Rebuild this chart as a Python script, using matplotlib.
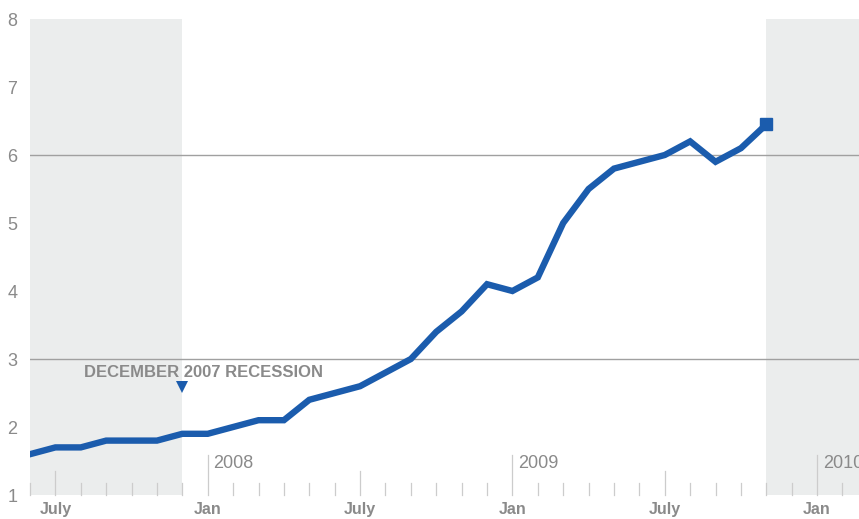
import numpy as np
import matplotlib.pyplot as plt
import matplotlib.transforms as mtransforms

plt.rcParams['font.family'] = ['Liberation Sans', 'DejaVu Sans']

# monthly values, June 2007 .. November 2009
months = ['2007-06', '2007-07', '2007-08', '2007-09', '2007-10', '2007-11',
          '2007-12', '2008-01', '2008-02', '2008-03', '2008-04', '2008-05',
          '2008-06', '2008-07', '2008-08', '2008-09', '2008-10', '2008-11',
          '2008-12', '2009-01', '2009-02', '2009-03', '2009-04', '2009-05',
          '2009-06', '2009-07', '2009-08', '2009-09', '2009-10', '2009-11']
values = [1.6, 1.7, 1.7, 1.8, 1.8, 1.8, 1.9, 1.9, 2.0, 2.1, 2.1, 2.4,
          2.5, 2.6, 2.8, 3.0, 3.4, 3.7, 4.1, 4.0, 4.2, 5.0, 5.5, 5.8,
          5.9, 6.0, 6.2, 5.9, 6.1, 6.45]

# axis months from June 2007 to Feb 2010
axis_months = ['2007-06', '2007-07', '2007-08', '2007-09', '2007-10', '2007-11',
               '2007-12', '2008-01', '2008-02', '2008-03', '2008-04', '2008-05',
               '2008-06', '2008-07', '2008-08', '2008-09', '2008-10', '2008-11',
               '2008-12', '2009-01', '2009-02', '2009-03', '2009-04', '2009-05',
               '2009-06', '2009-07', '2009-08', '2009-09', '2009-10', '2009-11',
               '2009-12', '2010-01', '2010-02']
month_labels = {'07': 'July', '01': 'Jan'}
recession_month = '2007-12'
recession_label = 'DECEMBER 2007 RECESSION'

blue = '#1b5cad'
grey_txt = '#8a8a8a'
shade = '#ebeded'
tickc = '#cccccc'

idx = {m: i for i, m in enumerate(axis_months)}
x = np.array([idx[m] for m in months])
y = np.array(values)

fig = plt.figure(figsize=(8.59, 5.19), dpi=100)
ax = fig.add_axes([30 / 859, 24 / 519, 829 / 859, 476 / 519])
xmax = 32.65
ax.set_xlim(0, xmax)
ax.set_ylim(1, 8)

# shaded periods
ax.axvspan(idx['2007-06'], idx['2007-12'], color=shade, lw=0, zorder=0)
ax.axvspan(idx['2009-11'], xmax, color=shade, lw=0, zorder=0)

# gridlines
for g in [3, 6]:
    ax.axhline(g, color='#a0a0a0', lw=1.0, zorder=1)

# month ticks
trans = mtransforms.blended_transform_factory(ax.transData, ax.transAxes)
for m, i in idx.items():
    mm = m[5:]
    if mm == '01':
        top = 40 / 476
    elif mm == '07':
        top = 24 / 476
    else:
        top = 12 / 476
    ax.plot([i, i], [0, top], color=tickc, lw=0.9, transform=trans,
            clip_on=False, zorder=1)
    if mm == '01':
        ax.text(i + 0.22, 31 / 476, m[:4], transform=trans, fontsize=13,
                color=grey_txt, ha='left', va='center')

tick_pos = [i for m, i in idx.items() if m[5:] in month_labels]
tick_lab = [month_labels[m[5:]] for m, i in idx.items() if m[5:] in month_labels]
ax.set_xticks(tick_pos)
ax.set_xticklabels(tick_lab, fontsize=11.5, color=grey_txt, fontweight='bold')
ax.tick_params(axis='x', length=0, pad=5)

ax.set_yticks(range(1, 9))
ax.set_yticklabels([str(v) for v in range(1, 9)], fontsize=13, color=grey_txt)
ax.tick_params(axis='y', length=0, pad=9)

for s in ax.spines.values():
    s.set_visible(False)

# line
ax.plot(x, y, color=blue, lw=4.6, solid_joinstyle='miter', zorder=3)
ax.plot(x[-1], y[-1], marker='s', ms=8, color=blue, zorder=4)

# recession marker
ri = idx[recession_month]
ax.plot(ri, 2.59, marker='v', ms=8, color=blue, zorder=4, markeredgewidth=0)
ax.text(ri - 3.87, 2.8, recession_label, fontsize=12, fontweight='bold',
        color=grey_txt, ha='left', va='center')

fig.savefig('out.png', dpi=100)
